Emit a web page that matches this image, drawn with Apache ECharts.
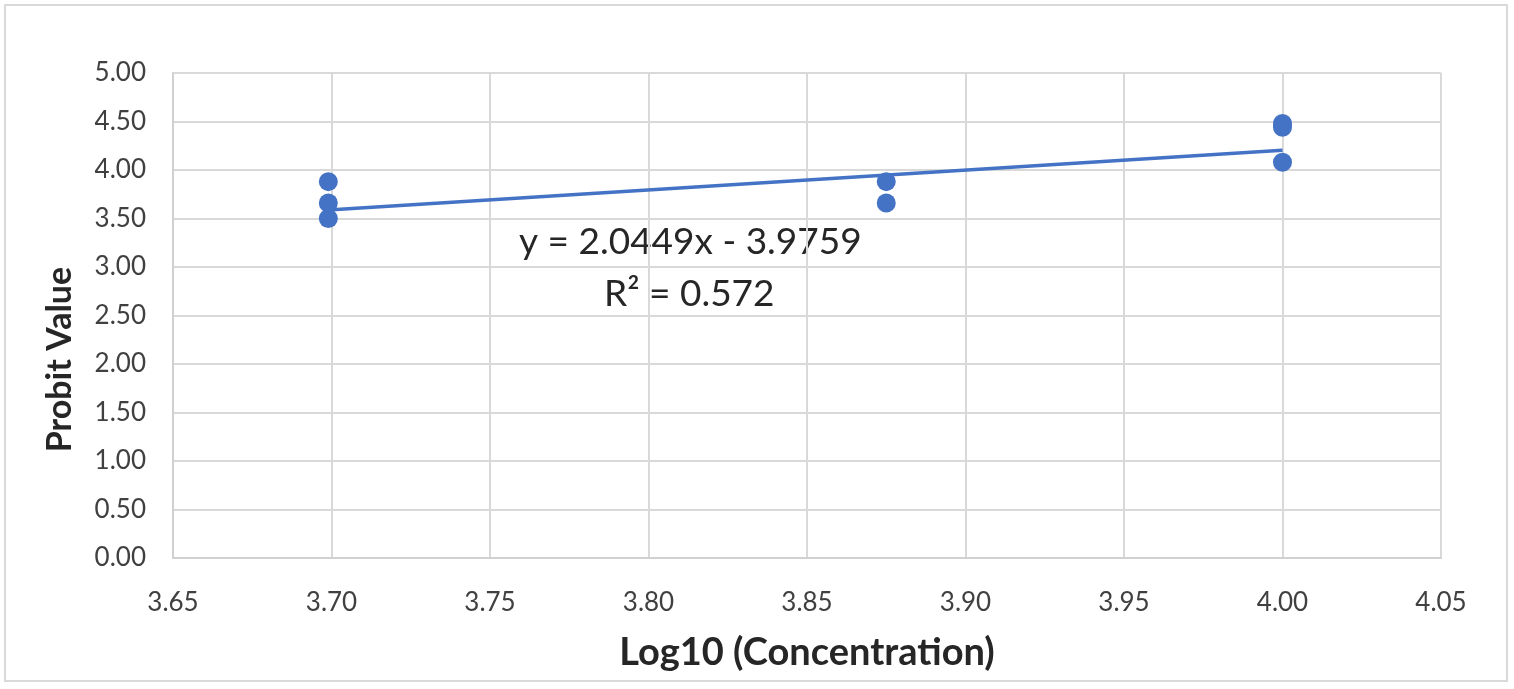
<!DOCTYPE html>
<html>
<head>
<meta charset="utf-8">
<script src="https://cdn.jsdelivr.net/npm/echarts@6/dist/echarts.min.js"></script>
<style>
html,body{margin:0;padding:0;background:#fff;}
#frame{position:absolute;left:4px;top:4px;width:1504px;height:678px;border:2px solid #d9d9d9;box-sizing:border-box;}
#chart{position:absolute;left:0;top:0;width:1514px;height:689px;}
</style>
</head>
<body>
<div id="frame"></div>
<div id="chart"></div>
<script>
const xValues = [3.699, 3.699, 3.699, 3.875, 3.875, 4.0, 4.0, 4.0];
const yValues = [3.88, 3.66, 3.50, 3.88, 3.66, 4.48, 4.44, 4.08];
const trendX = [3.699, 4.0];
const trendY = [3.588, 4.204];
const equationText = 'y = 2.0449x - 3.9759';
const r2Text = 'R² = 0.572';
const xTitle = 'Log10 (Concentration)';
const yTitle = 'Probit Value';

const font = 'Lato, "Open Sans", sans-serif';
const chart = echarts.init(document.getElementById('chart'));
chart.setOption({
  animation: false,
  backgroundColor: 'transparent',
  grid: {left: 173, right: 73, top: 73, bottom: 131},
  xAxis: {
    type: 'value', min: 3.65, max: 4.05, interval: 0.05,
    name: xTitle, nameLocation: 'middle', nameGap: 76,
    nameTextStyle: {fontFamily: font, fontSize: 38, fontWeight: 'bold', color: '#262626'},
    axisLine: {show: true, lineStyle: {color: '#d0d0d0', width: 2}},
    axisTick: {show: false},
    axisLabel: {fontFamily: font, fontSize: 26, color: '#404040', margin: 32, formatter: v => v.toFixed(2)},
    splitLine: {show: true, lineStyle: {color: '#d9d9d9', width: 2}}
  },
  yAxis: {
    type: 'value', min: 0, max: 5, interval: 0.5,
    name: yTitle, nameLocation: 'middle', nameGap: 96, nameRotate: 90,
    nameTextStyle: {fontFamily: font, fontSize: 34, fontWeight: 'bold', color: '#262626', padding: [0, 88, 0, 0]},
    axisLine: {show: true, lineStyle: {color: '#d0d0d0', width: 2}},
    axisTick: {show: false},
    axisLabel: {fontFamily: font, fontSize: 26, color: '#404040', margin: 27, formatter: v => v.toFixed(2)},
    splitLine: {show: true, lineStyle: {color: '#d9d9d9', width: 2}}
  },
  series: [
    {
      type: 'line',
      data: trendX.map((x, i) => [x, trendY[i]]),
      symbol: 'none',
      lineStyle: {color: '#4472c4', width: 3.5},
      z: 2
    },
    {
      type: 'scatter',
      data: xValues.map((x, i) => [x, yValues[i]]),
      symbol: 'circle', symbolSize: 19,
      itemStyle: {color: '#4472c4', opacity: 1},
      z: 3
    }
  ],
  graphic: [
    {type: 'text', left: 519, top: 224, style: {text: equationText, font: '37px ' + font, fill: '#262626'}},
    {type: 'text', left: 604, top: 276, style: {text: r2Text, font: '37px ' + font, fill: '#262626'}}
  ]
});
</script>
</body>
</html>
